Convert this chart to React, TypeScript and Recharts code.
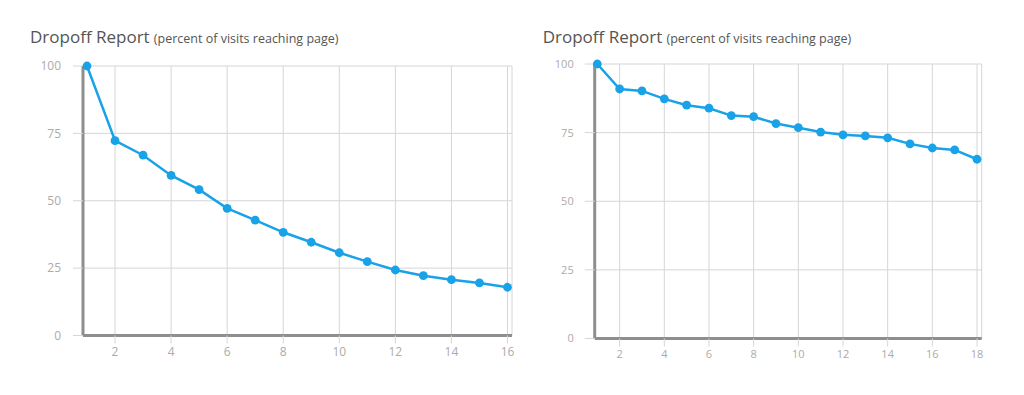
import React from 'react';
import { LineChart, Line, XAxis, YAxis, CartesianGrid } from 'recharts';

const pagesA = [1, 2, 3, 4, 5, 6, 7, 8, 9, 10, 11, 12, 13, 14, 15, 16];
const valuesA = [100, 72.3, 66.9, 59.4, 54.1, 47.2, 42.8, 38.3, 34.6, 30.7, 27.4, 24.3, 22.2, 20.7, 19.5, 17.9];
const pagesB = [1, 2, 3, 4, 5, 6, 7, 8, 9, 10, 11, 12, 13, 14, 15, 16, 17, 18];
const valuesB = [100, 90.9, 90.2, 87.3, 85.0, 83.9, 81.2, 80.8, 78.3, 76.8, 75.2, 74.2, 73.8, 73.1, 70.9, 69.4, 68.7, 65.3];
const xTicksA = [2, 4, 6, 8, 10, 12, 14, 16];
const xTicksB = [2, 4, 6, 8, 10, 12, 14, 16, 18];
const yTicks = [0, 25, 50, 75, 100];
const titleMain = 'Dropoff Report';
const titleSub = '(percent of visits reaching page)';

const dataA = pagesA.map((p, i) => ({ page: p, value: valuesA[i] }));
const dataB = pagesB.map((p, i) => ({ page: p, value: valuesB[i] }));

const LINE = '#18a2e8';
const GRID = '#d6d6d6';
const AXIS = '#8e8e8e';
const TICK = '#ababab';
const FONT = '"Open Sans", sans-serif';

function Title({ left }: { left: number }) {
  return (
    <div
      style={{
        position: 'absolute',
        left,
        top: 27.6,
        lineHeight: '17px',
        fontFamily: FONT,
        color: '#555',
        whiteSpace: 'nowrap',
      }}
    >
      <span style={{ fontSize: 17 }}>{titleMain}</span>{' '}
      <span style={{ fontSize: 12.5 }}>{titleSub}</span>
    </div>
  );
}

export default function App() {
  return (
    <div style={{ position: 'absolute', left: 0, top: 0, width: 1024, height: 395, background: '#fff', overflow: 'hidden' }}>
      <Title left={30} />
      <Title left={542.7} />
      <div style={{ position: 'absolute', left: 0, top: 0 }}>
        <LineChart width={520} height={395} data={dataA} margin={{ top: 66, right: 8, bottom: 29.5, left: 0 }}>
          <CartesianGrid stroke={GRID} strokeWidth={1} />
          <XAxis
            dataKey="page"
            type="number"
            domain={[1, 16]}
            ticks={xTicksA}
            padding={{ left: 4, right: 4.5 }}
            height={30}
            axisLine={{ stroke: AXIS, strokeWidth: 3 }}
            tickLine={{ stroke: GRID }}
            tickSize={8}
            tickMargin={4}
            tick={{ fill: TICK, fontSize: 12, fontFamily: FONT }}
          />
          <YAxis
            type="number"
            domain={[0, 100]}
            ticks={yTicks}
            width={83}
            axisLine={{ stroke: AXIS, strokeWidth: 3 }}
            tickLine={{ stroke: GRID }}
            tickSize={10}
            tickMargin={12}
            tick={{ fill: TICK, fontSize: 12, fontFamily: FONT }}
          />
          <Line
            dataKey="value"
            stroke={LINE}
            strokeWidth={2.5}
            dot={{ r: 4.4, fill: LINE, stroke: LINE, strokeWidth: 0 }}
            isAnimationActive={false}
          />
        </LineChart>
      </div>
      <div style={{ position: 'absolute', left: 520, top: 0 }}>
        <LineChart width={504} height={395} data={dataB} margin={{ top: 64, right: 42.3, bottom: 26.5, left: 0 }}>
          <CartesianGrid stroke={GRID} strokeWidth={1} />
          <XAxis
            dataKey="page"
            type="number"
            domain={[1, 18]}
            ticks={xTicksB}
            padding={{ left: 2.6, right: 4.7 }}
            height={30}
            axisLine={{ stroke: AXIS, strokeWidth: 3 }}
            tickLine={{ stroke: GRID }}
            tickSize={8}
            tickMargin={4}
            tick={{ fill: TICK, fontSize: 11, fontFamily: FONT }}
          />
          <YAxis
            type="number"
            domain={[0, 100]}
            ticks={yTicks}
            width={74.7}
            axisLine={{ stroke: AXIS, strokeWidth: 3 }}
            tickLine={{ stroke: GRID }}
            tickSize={10}
            tickMargin={11}
            tick={{ fill: TICK, fontSize: 11, fontFamily: FONT }}
          />
          <Line
            dataKey="value"
            stroke={LINE}
            strokeWidth={2.5}
            dot={{ r: 4.4, fill: LINE, stroke: LINE, strokeWidth: 0 }}
            isAnimationActive={false}
          />
        </LineChart>
      </div>
    </div>
  );
}
